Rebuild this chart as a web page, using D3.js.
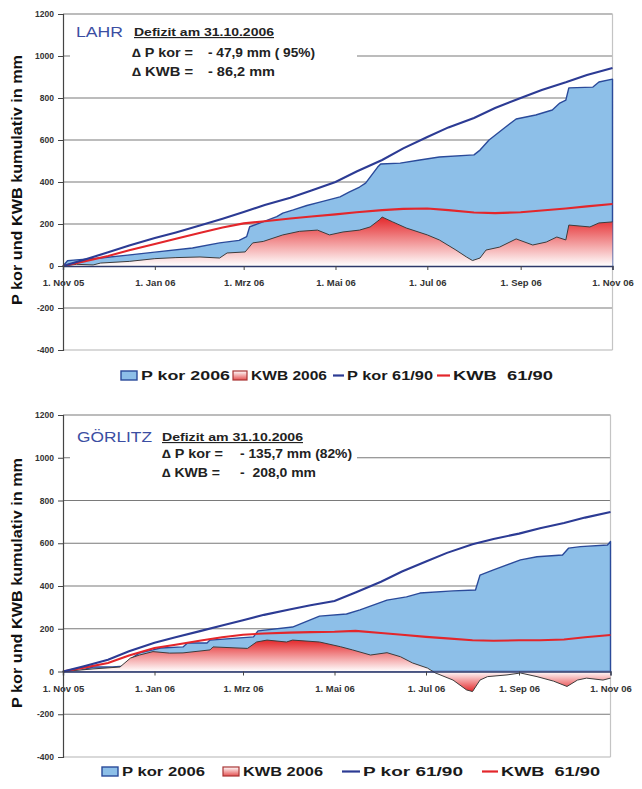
<!DOCTYPE html>
<html><head><meta charset="utf-8">
<script src="https://cdn.jsdelivr.net/npm/d3@7"></script>
<style>
body{margin:0;background:#fff}
svg{display:block}
text{font-family:"Liberation Sans",Arial,sans-serif;white-space:pre}
</style>
</head><body>
<svg id="chart" width="642" height="789"></svg>
<script>
// ---------- data ----------
const xTickDates = ["2005-11-01","2006-01-01","2006-03-01","2006-05-01","2006-07-01","2006-09-01","2006-11-01"];
const xTickLabels = ["1. Nov 05","1. Jan 06","1. Mrz 06","1. Mai 06","1. Jul 06","1. Sep 06","1. Nov 06"];
const yTicks = [-400,-200,0,200,400,600,800,1000,1200];
const legendLabels = ["P kor 2006","KWB 2006","P kor 61/90","KWB  61/90"];
const yAxisTitle = "P kor und KWB kumulativ in mm";
const stations = ["LAHR","GÖRLITZ"];
const deficitTitle = "Defizit am 31.10.2006";
const deltaPkorLabel = "\u2206 P kor =";
const deltaKwbLabel = "\u2206 KWB =";
const deltaPkorText = ["- 47,9 mm ( 95%)","- 135,7 mm (82%)"];
const deltaKwbText = ["- 86,2 mm","-  208,0 mm"];

// LAHR
const lahrPkor6190 = [["2005-11-01",0],["2005-11-15",30],["2005-12-01",65],["2005-12-15",98],["2006-01-01",133],["2006-01-15",160],["2006-02-01",195],["2006-02-15",225],["2006-03-01",257],["2006-03-15",290],["2006-04-01",325],["2006-04-15",360],["2006-05-01",400],["2006-05-15",450],["2006-06-01",505],["2006-06-15",560],["2006-07-01",614],["2006-07-15",660],["2006-08-01",705],["2006-08-15",752],["2006-09-01",800],["2006-09-15",838],["2006-10-01",875],["2006-10-15",910],["2006-11-01",943]];
const lahrKwb6190 = [["2005-11-01",0],["2005-11-15",22],["2005-12-01",48],["2005-12-15",75],["2006-01-01",105],["2006-01-15",130],["2006-02-01",160],["2006-02-15",183],["2006-03-01",203],["2006-03-15",213],["2006-04-01",226],["2006-04-15",236],["2006-05-01",246],["2006-05-15",256],["2006-06-01",266],["2006-06-15",272],["2006-07-01",274],["2006-07-15",266],["2006-08-01",255],["2006-08-15",252],["2006-09-01",256],["2006-09-15",264],["2006-10-01",274],["2006-10-15",284],["2006-11-01",295]];
const lahrPkor2006 = [["2005-11-01",0],["2005-11-04",25],["2005-11-08",28],["2005-11-26",38],["2005-12-14",52],["2006-01-01",66],["2006-01-26",86],["2006-02-13",110],["2006-02-26",122],["2006-03-03",140],["2006-03-05",187],["2006-03-12",205],["2006-03-23",235],["2006-03-27",252],["2006-04-03",267],["2006-04-12",288],["2006-04-20",303],["2006-05-04",329],["2006-05-10",352],["2006-05-17",376],["2006-05-21",395],["2006-05-29",471],["2006-05-31",486],["2006-06-13",490],["2006-06-26",505],["2006-07-09",519],["2006-08-01",529],["2006-08-05",552],["2006-08-11",600],["2006-08-22",662],["2006-08-29",700],["2006-09-11",719],["2006-09-22",743],["2006-09-27",776],["2006-10-01",790],["2006-10-03",848],["2006-10-19",852],["2006-10-23",876],["2006-11-01",890]];
const lahrKwb2006 = [["2005-11-01",0],["2005-11-10",8],["2005-11-21",5],["2005-11-26",14],["2005-12-15",22],["2006-01-01",35],["2006-01-15",40],["2006-01-31",43],["2006-02-13",38],["2006-02-18",62],["2006-03-02",67],["2006-03-07",110],["2006-03-14",117],["2006-03-27",148],["2006-04-07",165],["2006-04-19",171],["2006-04-27",148],["2006-05-06",162],["2006-05-17",171],["2006-05-24",186],["2006-05-30",219],["2006-06-01",233],["2006-06-08",210],["2006-06-17",181],["2006-07-01",148],["2006-07-09",124],["2006-07-20",76],["2006-07-27",43],["2006-07-31",26],["2006-08-05",38],["2006-08-09",76],["2006-08-18",90],["2006-08-29",129],["2006-09-09",100],["2006-09-18",114],["2006-09-25",138],["2006-10-01",124],["2006-10-03",195],["2006-10-17",186],["2006-10-23",205],["2006-11-01",210]];

// GÖRLITZ
const gorPkor6190 = [["2005-11-01",0],["2005-11-15",25],["2005-12-01",55],["2005-12-15",95],["2006-01-01",135],["2006-01-15",160],["2006-02-01",190],["2006-02-15",215],["2006-03-01",240],["2006-03-15",265],["2006-04-01",290],["2006-04-15",310],["2006-05-01",330],["2006-05-15",370],["2006-06-01",420],["2006-06-15",468],["2006-07-01",515],["2006-07-15",555],["2006-08-01",595],["2006-08-15",620],["2006-09-01",645],["2006-09-15",670],["2006-10-01",695],["2006-10-15",720],["2006-11-01",746]];
const gorKwb6190 = [["2005-11-01",0],["2005-11-15",18],["2005-12-01",40],["2005-12-15",75],["2006-01-01",110],["2006-01-15",125],["2006-02-01",145],["2006-02-15",160],["2006-03-01",172],["2006-03-15",178],["2006-04-01",182],["2006-04-15",184],["2006-05-01",186],["2006-05-15",190],["2006-06-01",180],["2006-06-15",172],["2006-07-01",162],["2006-07-15",155],["2006-08-01",146],["2006-08-15",144],["2006-09-01",146],["2006-09-15",146],["2006-10-01",150],["2006-10-15",160],["2006-11-01",171]];
const gorPkor2006 = [["2005-11-01",0],["2005-11-12",4],["2005-11-21",21],["2005-12-04",21],["2005-12-14",26],["2005-12-17",63],["2005-12-22",87],["2005-12-31",101],["2006-01-05",110],["2006-01-20",115],["2006-01-23",133],["2006-02-05",133],["2006-02-07",147],["2006-03-08",162],["2006-03-11",190],["2006-04-03",208],["2006-04-21",259],["2006-05-09",269],["2006-05-18",288],["2006-06-05",334],["2006-06-18",349],["2006-06-27",367],["2006-07-19",377],["2006-08-03",381],["2006-08-06",451],["2006-08-15",475],["2006-09-02",522],["2006-09-13",537],["2006-09-30",545],["2006-10-04",577],["2006-10-12",584],["2006-10-30",592],["2006-11-01",608]];
const gorKwb2006 = [["2005-11-01",0],["2005-11-21",12],["2005-12-09",21],["2005-12-16",63],["2005-12-22",77],["2005-12-31",93],["2006-01-11",86],["2006-01-20",87],["2006-02-07",101],["2006-02-09",115],["2006-03-04",108],["2006-03-10",138],["2006-03-17",147],["2006-03-30",138],["2006-04-03",147],["2006-04-21",138],["2006-05-05",116],["2006-05-13",101],["2006-05-25",77],["2006-06-05",88],["2006-06-14",69],["2006-06-22",40],["2006-07-02",16],["2006-07-07",-6],["2006-07-19",-40],["2006-07-28",-86],["2006-08-01",-94],["2006-08-06",-40],["2006-08-11",-24],["2006-08-24",-16],["2006-09-02",-7],["2006-09-13",-24],["2006-09-24",-45],["2006-10-03",-70],["2006-10-10",-40],["2006-10-16",-31],["2006-10-27",-40],["2006-11-01",-31]];

// ---------- drawing ----------
const parse = d3.timeParse("%Y-%m-%d");
const svg = d3.select("#chart");
const defs = svg.append("defs");

const C = {
  fillBlue:"#8dbfe8", edgeBlue:"#2a4a9a", lineBlue:"#2c3b94",
  lineRed:"#e3262b", red:"#e4282b", grid:"#7a7a7a", text:"#333"
};

const panels = [
  {id:0, top:14, bottom:350, right:612.5, pk:lahrPkor2006, kw:lahrKwb2006, pk6:lahrPkor6190, kw6:lahrKwb6190,
   legendY:380, legend:[121,141,89, 233,251,76, 333,347,86, 437,453,100],
   ann:{st:[76,37,47], def:[134,36,140], l1:[132,57,61], v1:[208,57,107], l2:[132,76,61], v2:[208,76,67]}, titleY:180},
  {id:1, top:415, bottom:757, right:610.5, pk:gorPkor2006, kw:gorKwb2006, pk6:gorPkor6190, kw6:gorKwb6190,
   legendY:776, legend:[102,122,83, 223,243,80, 342,363,100, 482,501,99],
   ann:{st:[77,442,75], def:[162,441,141], l1:[162,458,61], v1:[240,458,112], l2:[162,477,58], v2:[240,477,76]}, titleY:583}
];

function rows(a){ return a.map(d => ({date: parse(d[0]), v: d[1]})); }

panels.forEach(p => {
  const x = d3.scaleTime().domain([parse("2005-11-01"), parse("2006-11-01")]).range([63, p.right]);
  const y = d3.scaleLinear().domain([-400, 1200]).range([p.bottom, p.top]);
  const g = svg.append("g");
  const pk = rows(p.pk), kw = rows(p.kw), pk6 = rows(p.pk6), kw6 = rows(p.kw6);

  // gradient for KWB area
  const kmax = d3.max(kw, d => d.v), kmin = Math.min(0, d3.min(kw, d => d.v));
  const gy1 = y(kmax), gy2 = y(kmin);
  const z = (y(0) - gy1) / (gy2 - gy1);
  const grad = defs.append("linearGradient").attr("id","kg"+p.id)
    .attr("gradientUnits","userSpaceOnUse").attr("x1",0).attr("x2",0).attr("y1",gy1).attr("y2",gy2);
  grad.append("stop").attr("offset",0).attr("stop-color",C.red);
  grad.append("stop").attr("offset",z).attr("stop-color","#ffffff");
  grad.append("stop").attr("offset",1).attr("stop-color", kmin < 0 ? C.red : "#ffffff");

  // gridlines
  yTicks.filter(v => v !== 0).forEach(v => {
    g.append("line").attr("x1",63).attr("x2",p.right).attr("y1",y(v)).attr("y2",y(v))
      .attr("stroke", v === -400 ? "#b4b4b4" : C.grid).attr("stroke-width",1.2);
  });
  // right border
  g.append("line").attr("x1",p.right).attr("x2",p.right).attr("y1",y(1200)).attr("y2",y(-400))
    .attr("stroke","#c4c4c4").attr("stroke-width",1.2);

  // white annotation box
  g.append("rect").attr("x",70).attr("y",y(1200)+6).attr("width",287).attr("height",y(800)-y(1200)-14).attr("fill","#fff");

  // P kor 2006 area
  const area = d3.area().x(d => x(d.date)).y0(y(0)).y1(d => y(d.v));
  g.append("path").datum(pk).attr("d", area).attr("fill", C.fillBlue)
    .attr("stroke", C.edgeBlue).attr("stroke-width",1.4).attr("stroke-linejoin","round");
  // KWB 2006 area
  g.append("path").datum(kw).attr("d", area).attr("fill","url(#kg"+p.id+")")
    .attr("stroke","none");
  const line = d3.line().x(d => x(d.date)).y(d => y(d.v));
  g.append("path").datum(kw).attr("d", line).attr("fill","none").attr("stroke","#3c3c3c").attr("stroke-width",1);

  // long-term lines
  g.append("path").datum(kw6).attr("d", line).attr("fill","none").attr("stroke",C.lineRed).attr("stroke-width",2.1);
  g.append("path").datum(pk6).attr("d", line).attr("fill","none").attr("stroke",C.lineBlue).attr("stroke-width",2.1);

  // x axis at zero
  const xa = d3.axisBottom(x).tickValues(xTickDates.map(parse))
    .tickFormat((d,i) => xTickLabels[i]).tickSize(4).tickPadding(9.5);
  const xg = g.append("g").attr("transform",`translate(0,${y(0)})`).call(xa);
  xg.select(".domain").attr("stroke","#2f3a6a").attr("stroke-width",1.4);
  xg.selectAll(".tick line").attr("stroke","#444");
  xg.selectAll("text").attr("font-size",9.5).attr("font-weight","bold").attr("fill",C.text)
    .attr("font-family","'Liberation Sans',Arial,sans-serif");

  // y axis
  const ya = d3.axisLeft(y).tickValues(yTicks).tickSize(5).tickPadding(4).tickFormat(d => String(d));
  const yg = g.append("g").attr("transform","translate(63,0)").call(ya);
  yg.select(".domain").attr("stroke","#444").attr("stroke-width",1.2);
  yg.selectAll(".tick line").attr("stroke","#444");
  yg.selectAll("text").attr("font-size",8.5).attr("font-weight","bold").attr("fill",C.text)
    .attr("font-family","'Liberation Sans',Arial,sans-serif");

  // y title
  g.append("text").attr("transform",`translate(22,${p.titleY}) rotate(-90)`).attr("text-anchor","middle")
    .attr("font-size",14).attr("font-weight","bold").attr("fill","#111")
    .attr("textLength",250).attr("lengthAdjust","spacingAndGlyphs").text(yAxisTitle);

  // annotation
  const a = p.ann;
  const T = (pos, txt, opts) => {
    const t = g.append("text").attr("x",pos[0]).attr("y",pos[1]).attr("textLength",pos[2])
      .attr("lengthAdjust","spacingAndGlyphs").attr("font-size",opts.size).attr("font-weight",opts.w||"bold")
      .attr("fill",opts.fill||"#222").text(txt);
    if (opts.u) t.attr("text-decoration","underline");
    return t;
  };
  T(a.st, stations[p.id], {size:14, w:"normal", fill:"#3b4ea2"});
  T(a.def, deficitTitle, {size:11.5, u:true});
  T(a.l1, deltaPkorLabel, {size:12});
  T(a.v1, deltaPkorText[p.id], {size:12});
  T(a.l2, deltaKwbLabel, {size:12});
  T(a.v2, deltaKwbText[p.id], {size:12});

  // legend
  const L = p.legend, ly = p.legendY;
  const lg = g.append("g");
  lg.append("rect").attr("x",L[0]).attr("y",ly-9).attr("width",L[1]-L[0]-4).attr("height",9)
    .attr("fill",C.fillBlue).attr("stroke",C.edgeBlue).attr("stroke-width",1.4);
  const lgGrad = defs.append("linearGradient").attr("id","lk"+p.id).attr("x1",0).attr("x2",0).attr("y1",0).attr("y2",1);
  lgGrad.append("stop").attr("offset",0).attr("stop-color","#ffffff");
  lgGrad.append("stop").attr("offset",1).attr("stop-color","#e45050");
  lg.append("rect").attr("x",L[3]).attr("y",ly-9).attr("width",L[4]-L[3]-4).attr("height",9)
    .attr("fill","url(#lk"+p.id+")").attr("stroke","#a83434").attr("stroke-width",1.2);
  lg.append("line").attr("x1",L[6]).attr("x2",L[7]-3).attr("y1",ly-4.5).attr("y2",ly-4.5)
    .attr("stroke",C.lineBlue).attr("stroke-width",2.2);
  lg.append("line").attr("x1",L[9]).attr("x2",L[10]-3).attr("y1",ly-4.5).attr("y2",ly-4.5)
    .attr("stroke",C.lineRed).attr("stroke-width",2.2);
  [[L[1],L[2]],[L[4],L[5]],[L[7],L[8]],[L[10],L[11]]].forEach((s,i) => {
    lg.append("text").attr("x",s[0]).attr("y",ly).attr("textLength",s[1]).attr("lengthAdjust","spacingAndGlyphs")
      .attr("font-size",13.5).attr("font-weight","bold").attr("fill","#1a1a1a").text(legendLabels[i]);
  });
});
</script>
</body></html>
